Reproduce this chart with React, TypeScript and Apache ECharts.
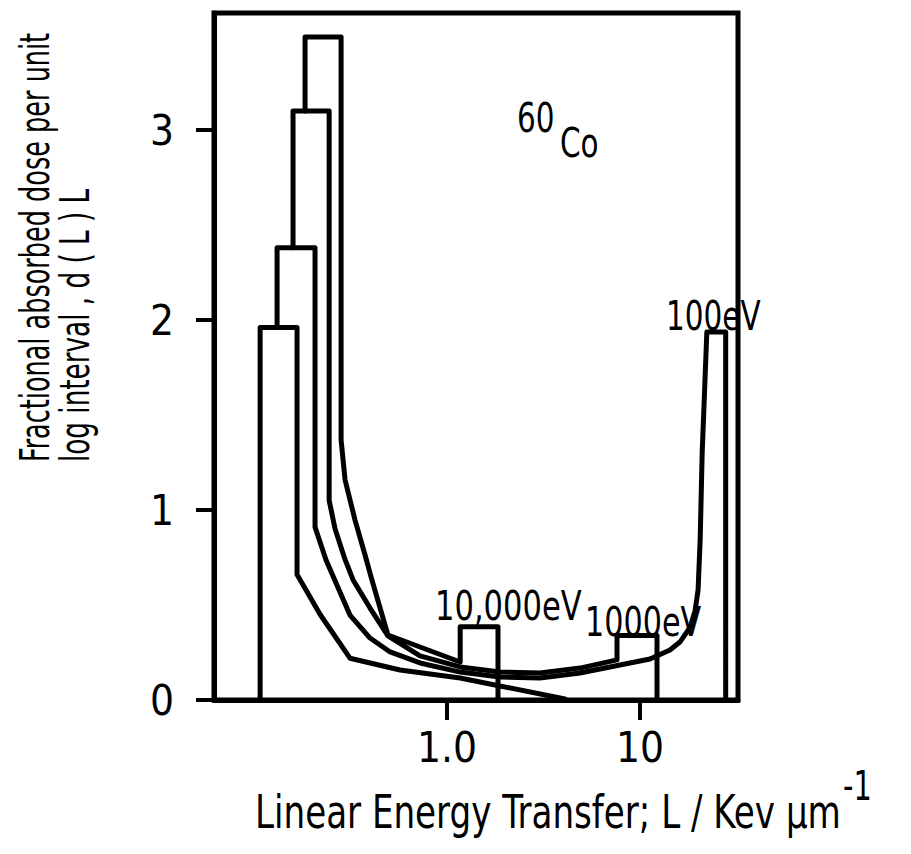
import React, { useEffect, useRef } from "react";
import * as echarts from "echarts";

// x-axis (log) tick values and their labels
const xTickValues = [1, 10];
const xTickLabels = ["1.0", "10"];
const yTickValues = [0, 1, 2, 3];

// Each spectrum: [L (keV/µm), d(L)·L] points
const spectrumA: number[][] = [
  [0.1075, 0], [0.1075, 1.96], [0.167, 1.96], [0.167, 0.66], [0.22, 0.45],
  [0.314, 0.22], [0.571, 0.158], [1.17, 0.116], [1.88, 0.074], [4.09, 0.005],
];
const spectrumB: number[][] = [
  [0.1316, 1.96], [0.1316, 2.38], [0.207, 2.38], [0.207, 0.91], [0.225, 0.8],
  [0.236, 0.737], [0.314, 0.447], [0.399, 0.326], [0.507, 0.253], [0.7245, 0.195],
  [1.17, 0.147], [1.88, 0.121], [3.03, 0.116], [4.89, 0.142], [7.87, 0.184],
  [11.27, 0.216], [14.3, 0.263], [16.1, 0.305], [18.2, 0.384], [19.3, 0.47],
  [20.0, 0.58], [20.5, 0.842], [21.0, 1.3], [22.2, 1.937], [27.8, 1.937], [27.8, 0],
];
const spectrumC: number[][] = [
  [0.1592, 2.38], [0.1592, 3.1], [0.245, 3.1], [0.245, 1.05], [0.263, 0.9],
  [0.296, 0.74], [0.326, 0.632], [0.399, 0.484], [0.494, 0.337], [0.7245, 0.232],
  [1.17, 0.174], [1.88, 0.147], [3.03, 0.142], [4.89, 0.168], [7.6, 0.211],
  [7.6, 0.34], [12.25, 0.34], [12.25, 0],
];
const spectrumD: number[][] = [
  [0.1838, 3.1], [0.1838, 3.49], [0.2825, 3.49], [0.2825, 1.368], [0.2963, 1.158],
  [0.3336, 0.947], [0.376, 0.763], [0.408, 0.632], [0.494, 0.342], [1.17, 0.2],
  [1.17, 0.385], [1.837, 0.385], [1.837, 0],
];

const FONT = '"DejaVu Sans Condensed", "DejaVu Sans", sans-serif';

const txt = (text: string, x: number, y: number, fontSize: number, scaleX: number, rotation = 0) => ({
  type: "text",
  x, y, rotation, scaleX,
  style: { text, fontSize, fontFamily: FONT, fill: "#000", textAlign: "left", textVerticalAlign: "middle" },
});

export default function App() {
  const ref = useRef<HTMLDivElement>(null);
  useEffect(() => {
    if (!ref.current) return;
    const chart = echarts.init(ref.current, undefined, { renderer: "svg" });
    const lineSeries = (data: number[][]) => ({
      type: "line",
      data,
      symbol: "none",
      showSymbol: false,
      clip: false,
      lineStyle: { color: "#000", width: 5, join: "round", cap: "round" },
      z: 3,
    });
    chart.setOption({
      animation: false,
      backgroundColor: "#fff",
      grid: {
        left: 214, top: 13, width: 524, height: 687,
        show: true, borderColor: "#000", borderWidth: 5,
      },
      xAxis: {
        type: "log",
        logBase: 10,
        min: 0.062,
        max: 32.2,
        axisLine: { show: true, lineStyle: { color: "#000", width: 5 } },
        axisTick: { show: true, length: 20, lineStyle: { color: "#000", width: 4 }, customValues: xTickValues },
        axisLabel: {
          customValues: xTickValues,
          formatter: (v: number) => xTickLabels[xTickValues.indexOf(v)] ?? "",
          color: "#000", fontSize: 42, fontFamily: FONT, margin: 26,
        },
        splitLine: { show: false },
        minorTick: { show: false },
      },
      yAxis: {
        type: "value",
        min: 0,
        max: 3.616,
        interval: 1,
        axisLine: { show: true, lineStyle: { color: "#000", width: 5 } },
        axisTick: { show: true, length: 18, lineStyle: { color: "#000", width: 4 }, customValues: yTickValues },
        axisLabel: { customValues: yTickValues, color: "#000", fontSize: 42, fontFamily: FONT, margin: 40 },
        splitLine: { show: false },
      },
      series: [
        lineSeries(spectrumA),
        lineSeries(spectrumB),
        lineSeries(spectrumC),
        lineSeries(spectrumD),
      ],
      graphic: [
        txt("Fractional absorbed dose per unit", 35, 462, 40, 0.71, Math.PI / 2),
        txt("log interval , d ( L ) L", 75, 462, 40, 0.73, Math.PI / 2),
        txt("Linear Energy Transfer; L / Kev \u00b5m", 255, 812, 46, 0.825),
        txt("-1", 843, 786, 40, 0.8),
        txt("60", 517, 118, 40, 0.82),
        txt("Co", 560, 143, 40, 0.82),
        txt("100eV", 666, 316, 40, 0.82),
        txt("10,000eV", 435, 607, 40, 0.85),
        txt("1000eV", 585, 622, 40, 0.84),
      ],
    });
    return () => chart.dispose();
  }, []);
  return (
    <div
      ref={ref}
      style={{ position: "fixed", left: 0, top: 0, width: 911, height: 854, background: "#fff" }}
    />
  );
}
